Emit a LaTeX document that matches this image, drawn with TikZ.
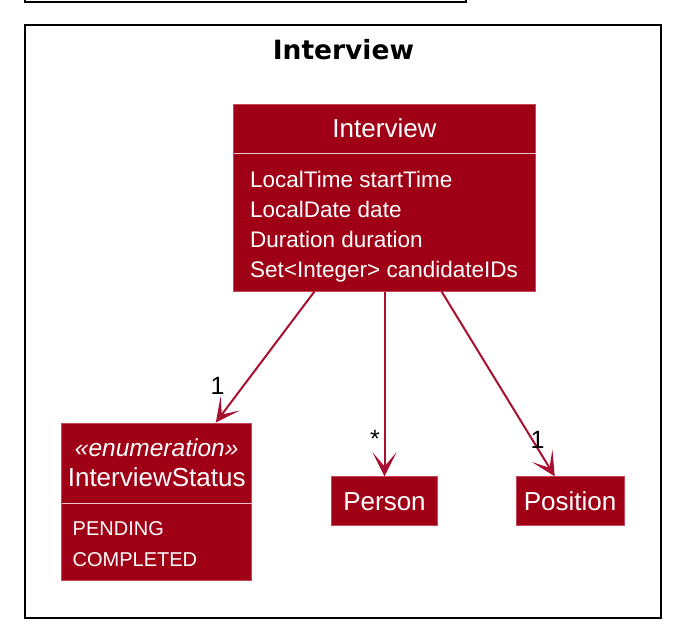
\documentclass[tikz,border=0pt]{standalone}
\usepackage{fontspec}
\setmainfont{Liberation Sans}
\newfontfamily\pkgfont{DejaVu Sans}
\usetikzlibrary{positioning,arrows.meta}
\definecolor{umlred}{RGB}{160,0,21}
\definecolor{umlborder}{RGB}{200,70,90}
\definecolor{umlline}{RGB}{168,16,48}
\definecolor{umlsep}{RGB}{236,196,200}

\begin{document}
\begin{tikzpicture}[x=1pt,y=-1pt,
cls/.style={draw=umlborder,fill=umlred,line width=1pt,rectangle,inner sep=0pt},
clsname/.style={text=white,font=\fontsize{26}{30}\selectfont,anchor=base,inner sep=0pt},
attr/.style={text=white,font=\fontsize{22.5}{30}\selectfont,anchor=base west,inner sep=0pt},
enumval/.style={attr,font=\fontsize{20}{30}\selectfont},
sep/.style={draw=umlsep,line width=1.2pt},
assoc/.style={draw=umlline,line width=2pt,-{Stealth[length=24pt,width=24pt,inset=14pt]}},
mult/.style={font=\fontsize{25}{28}\selectfont,inner sep=0pt}]

\useasboundingbox (0,0) rectangle (682,644);
\draw [line width=2.2pt] (25,-10) -- (25,2) -- (466,2) -- (466,-10);
\draw [line width=2.2pt] (25,25) rectangle (661,618);
\node (pkg) [font=\pkgfont\bfseries\fontsize{26.5}{30}\selectfont,inner sep=0pt,anchor=base] at (343.4,60) {Interview};

\node (iv) [cls,minimum width=302pt,minimum height=186pt] at (384.5,198) {};
\draw [sep] (233.5,153.3) -- (535.5,153.3);
\node (ivname) [clsname] at (384.5,137.3) {Interview};
\node (ivstart) [attr] at (250,187.3) {LocalTime startTime};
\node (ivdate) [attr] at (250,217.3) {LocalDate date};
\node (ivdur) [attr] at (250,247.3) {Duration duration};
\node (ivcand) [attr] at (250,277.3) {Set<Integer> candidateIDs};

\node (ivs) [cls,minimum width=190pt,minimum height=157pt] at (156.8,501.5) {};
\draw [sep] (61.8,503.5) -- (251.8,503.5);
\node (ivsstereo) [clsname,font=\itshape\fontsize{24.5}{30}\selectfont] at (156.7,456.7) {«enumeration»};
\node (ivsname) [clsname] at (156.7,486.7) {InterviewStatus};
\node (pending) [enumval] at (72.5,535) {PENDING};
\node (completed) [enumval] at (72.5,566.5) {COMPLETED};

\node (person) [cls,minimum width=106pt,minimum height=49pt] at (384.5,501.3) {};
\node (personname) [clsname] at (384.5,510) {Person};
\node (pos) [cls,minimum width=108pt,minimum height=49pt] at (570,501.3) {};
\node (posname) [clsname] at (570,510) {Position};

\draw [assoc] (iv) -- (ivs);
\draw [assoc] (iv) -- (person);
\draw [assoc] (iv) -- (pos);

\node (m1) [mult] at (217.5,386) {1};
\node (m2) [mult] at (375,439) {*};
\node (m3) [mult] at (537.5,440) {1};
\end{tikzpicture}
\end{document}
